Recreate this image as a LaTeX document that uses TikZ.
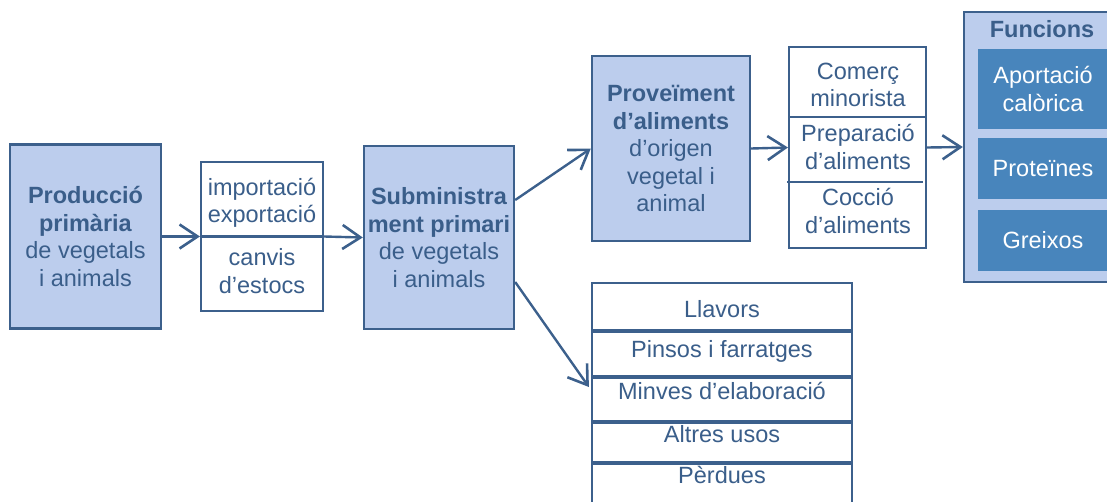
\documentclass[tikz,border=0pt]{standalone}
\usepackage{fontspec}
\setmainfont{Liberation Sans}
\usetikzlibrary{arrows.meta}
\definecolor{ink}{RGB}{58,94,138}
\definecolor{edge}{RGB}{60,96,140}
\definecolor{pale}{RGB}{188,205,237}
\definecolor{deep}{RGB}{72,133,188}
\tikzset{
  x=1pt, y=-1pt,
  txt/.style={font=\fontsize{23.5}{27.5}\selectfont, text=ink, align=center, inner sep=0pt},
  palebox/.style={draw=edge, line width=2.4pt, fill=pale, inner sep=0pt},
  whitebox/.style={draw=edge, line width=2.2pt, fill=white, inner sep=0pt},
  deepbox/.style={fill=deep, inner sep=0pt, text=white, font=\fontsize{23.5}{27.5}\selectfont, align=center},
  divider/.style={draw=edge, line width=3.2pt},
  flow/.style={draw=edge, line width=2.4pt, -{Straight Barb[length=18pt,width=24pt,line width=2.6pt]}},
}
\begin{document}
\begin{tikzpicture}
\useasboundingbox (0,0) rectangle (1107,501);
\clip (0,0) rectangle (1107,501);

% primary production
\node[palebox, minimum width=151pt, minimum height=184pt, txt] (prod) at (85.5,236.5)
  {\textbf{Producció}\\\textbf{primària}\\de vegetals\\i animals};

% trade and stock changes
\node[whitebox, minimum width=122pt, minimum height=149pt] (imp) at (262,236.5) {};
\draw[divider] (imp.west) -- (imp.east);
\node[txt] (impt) at (262,203) {importació\\exportació};
\node[txt] (stk) at (262,271) {canvis\\d’estocs};

% primary supply
\node[palebox, minimum width=150pt, minimum height=183pt, txt] (sub) at (439,237.5)
  {\textbf{Subministra}\\\textbf{ment primari}\\de vegetals\\i animals};

% food provision
\node[palebox, minimum width=158pt, minimum height=185pt, txt] (prov) at (671,148.5)
  {\textbf{Proveïment}\\\textbf{d’aliments}\\d’origen\\vegetal i\\animal};

% retail, preparation, cooking
\node[whitebox, minimum width=137pt, minimum height=201pt] (com) at (857.5,147.5) {};
\draw[divider, line width=2.4pt] (789,117) -- (926,117);
\draw[divider, line width=2.4pt] (787,182) -- (923,182);
\node[txt] (c1) at (858,85) {Comerç\\minorista};
\node[txt] (c2) at (858,147) {Preparació\\d’aliments};
\node[txt] (c3) at (858,211) {Cocció\\d’aliments};

% functions
\node[palebox, minimum width=160pt, minimum height=270pt] (fun) at (1044,147) {};
\node[font=\fontsize{23.5}{27.5}\selectfont\bfseries, text=ink, inner sep=0pt] (funt) at (1042,29) {Funcions};
\node[deepbox, minimum width=130pt, minimum height=80pt] (f1) at (1043,89) {Aportació\\calòrica};
\node[deepbox, minimum width=130pt, minimum height=61pt] (f2) at (1043,168.5) {Proteïnes};
\node[deepbox, minimum width=130pt, minimum height=61pt] (f3) at (1043,240.5) {Greixos};

% other uses list
\node[whitebox, minimum width=260pt, minimum height=240pt] (lst) at (722,403) {};
\draw[divider] (592,331) -- (852,331);
\draw[divider] (592,377) -- (852,377);
\draw[divider] (592,422) -- (852,422);
\draw[divider] (592,463) -- (852,463);
\node[txt] (l1) at (722,309) {Llavors};
\node[txt] (l2) at (722,351) {Pinsos i farratges};
\node[txt] (l3) at (722,391) {Minves d’elaboració};
\node[txt] (l4) at (722,434) {Altres usos};
\node[txt] (l5) at (722,475) {Pèrdues};

% flows
\draw[flow] (prod.east) -- (imp.west);
\draw[flow] (imp.east) -- (sub.west);
\draw[flow] ([yshift=37.5pt]sub.east) -- (prov.west);
\draw[flow] ([yshift=-44.5pt]sub.east) -- ([xshift=-2pt,yshift=16pt]lst.west);
\draw[flow] (prov.east) -- (com.west);
\draw[flow] (com.east) -- (fun.west);
\end{tikzpicture}
\end{document}
